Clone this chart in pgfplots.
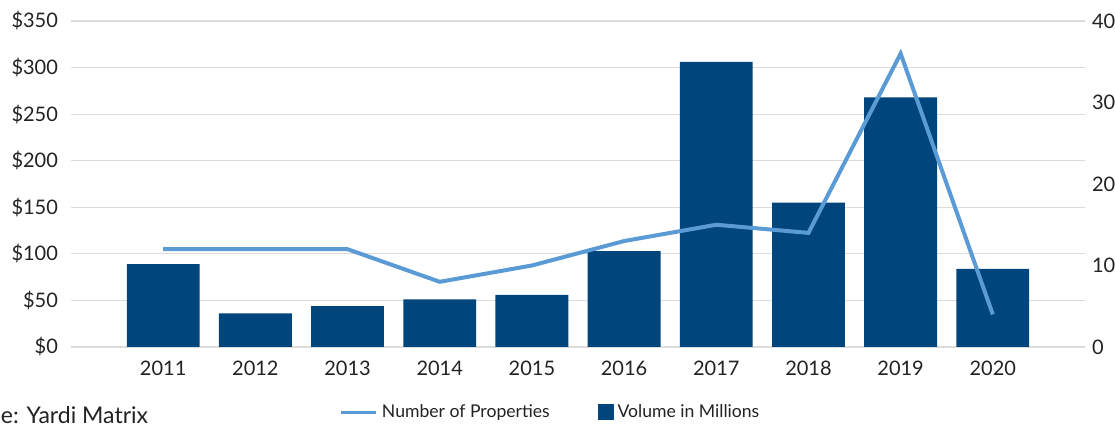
\documentclass[border=0pt]{standalone}
\usepackage{fontspec}
\setmainfont{Lato}
\usepackage{pgfplots}
\pgfplotsset{compat=1.18}

\definecolor{barblue}{HTML}{00457C}
\definecolor{lineblue}{HTML}{5B9BD5}
\definecolor{gridgray}{HTML}{DCDCDC}
\definecolor{txt}{HTML}{222222}

\pgfplotsset{
  common/.style={
    scale only axis, width=507pt, height=163pt,
    xmin=-1, xmax=10,
    axis line style={draw=none},
    tick style={draw=none},
    ticklabel style={font=\fontsize{10}{12}\selectfont, text=txt},
    /pgf/number format/assume math mode=true,
  }
}

\begin{document}
\begin{tikzpicture}
\path[use as bounding box] (-35.5pt,-40pt) rectangle (522pt,173.5pt);

\begin{axis}[common,
  ymin=0, ymax=350, ytick={0,50,...,350},
  yticklabel={\$\pgfmathprintnumber{\tick}},
  ymajorgrids, grid style={gridgray, line width=0.6pt},
  xtick={0,...,9},
  xticklabels={2011,2012,2013,2014,2015,2016,2017,2018,2019,2020},
  xticklabel style={yshift=1pt},
  yticklabel style={xshift=-3pt},
  ybar, bar width=0.79,
]
\addplot[fill=barblue, draw=none] coordinates {
(0,89) (1,36) (2,44) (3,51) (4,56) (5,103) (6,306) (7,155) (8,268) (9,84)};
\end{axis}

\begin{axis}[common,
  ymin=0, ymax=40, ytick={0,10,...,40},
  axis y line*=right, axis x line=none,
  yticklabel style={xshift=0pt},
  legend columns=2,
  legend style={draw=none, fill=none, at={(0.474,-0.2)}, anchor=center,
    font=\fontsize{8.8}{10}\selectfont, text=txt,
    /tikz/every even column/.append style={column sep=22pt}},
  legend image code/.code={\draw[#1, line width=1.5pt] (0pt,0pt) -- (17.5pt,0pt);},
]
\addplot[lineblue, line width=2pt, mark=none] coordinates {
(0,12) (1,12) (2,12) (3,8) (4,10) (5,13) (6,15) (7,14) (8,36) (9,4)};
\addlegendentry{Number of Properties}
\addlegendimage{legend image code/.code={\fill[barblue] (2pt,-3.75pt) rectangle (9.5pt,3.75pt);}}
\addlegendentry{Volume in Millions}
\end{axis}

\node[anchor=west, inner sep=0pt, text=txt, font=\fontsize{11.5}{13}\selectfont] at (-35.2pt,-34pt) {e: Yardi Matrix};
\end{tikzpicture}
\end{document}
